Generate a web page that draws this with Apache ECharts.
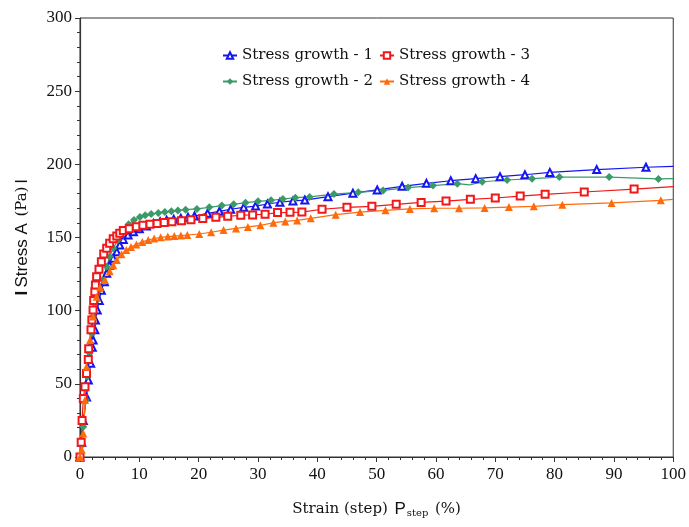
<!DOCTYPE html>
<html>
<head>
<meta charset="utf-8">
<script src="https://cdn.jsdelivr.net/npm/echarts@6/dist/echarts.min.js"></script>
<style>
  html, body { margin: 0; padding: 0; background: #fff; }
  #chart { width: 689px; height: 527px; }
</style>
</head>
<body>
<div id="chart"></div>
<script>
// [strain %, stress Pa]
var growth1 = [[0,0],[0.3,10],[0.56,25],[1.1,41],[1.4,52.6],[1.8,64],[2.07,75],[2.2,80],[2.5,87],[2.6,93.6],[2.9,100.5],[3.25,107],[3.6,114],[4.1,119.8],[4.5,125.5],[5.0,131],[5.6,135.8],[6.2,140.3],[6.7,144.9],[7.3,148.7],[8.1,151.7],[9.0,154],[10.0,156],[11.2,157.8],[12.4,159.5],[13.5,160.8],[14.6,161.8],[15.8,162.5],[17.0,163.1],[18.2,163.8],[19.3,164.7],[21.5,166.5],[23.5,167.9],[25.4,169.3],[27.6,170.6],[29.6,171.5],[31.6,172.9],[33.7,174.1],[35.9,175.0],[37.9,175.6],[41.8,177.9],[46.0,180.3],[50.1,182.5],[54.3,185.0],[58.4,187.0],[62.5,188.8],[66.7,190.2],[70.8,191.6],[75.0,192.9],[79.2,194.5],[87.1,196.4],[95.4,198.0],[100,198.6]];
var growth2 = [[0,0],[0.3,8],[0.56,20.7],[1.0,39],[1.2,55],[1.6,71],[2.0,84.5],[2.2,96],[2.8,107],[3.2,114],[3.8,121],[4.5,130],[5.0,137],[5.6,142.6],[6.4,148.3],[7.3,154],[8.2,159],[9.1,162],[10.1,164],[11.0,165.2],[12.0,166],[13.2,166.8],[14.3,167.5],[15.4,168.0],[16.5,168.5],[17.8,169.0],[19.7,169.5],[21.8,170.6],[23.9,171.8],[25.9,172.7],[27.9,173.8],[30.0,174.7],[32.2,175.4],[34.2,176.3],[36.3,177.2],[38.7,177.7],[42.8,179.7],[46.9,180.9],[51.1,182.2],[55.3,184.1],[59.5,185.5],[63.6,186.8],[65.7,185.9],[67.8,188.1],[72.0,189.3],[76.2,190.2],[80.8,191.3],[89.2,191.3],[97.5,190.0],[100,190.3]];
var growth3 = [[0,0],[0.2,10],[0.35,25],[0.56,40],[0.84,48],[1.1,57],[1.4,66.7],[1.46,74],[1.85,87],[2.0,93.6],[2.2,100.5],[2.3,107],[2.5,113],[2.6,117.5],[2.8,123.2],[3.2,128.3],[3.6,133.5],[4.0,138.7],[4.5,142.6],[5.0,146],[5.6,149.2],[6.2,151],[6.7,152.9],[7.3,154.7],[8.3,156],[9.5,157.4],[10.6,158.3],[11.8,159],[13,159.6],[14.2,160.2],[15.5,160.8],[17.1,161.5],[18.7,162.2],[20.7,162.9],[22.9,163.8],[24.9,164.5],[27.1,165.2],[29.1,165.4],[31.2,165.9],[33.3,167.0],[35.4,167.2],[37.4,167.4],[40.8,169.3],[45.0,170.6],[49.2,171.3],[53.3,172.7],[57.5,174.0],[61.7,174.9],[65.8,176.1],[70.0,177.0],[74.2,178.3],[78.4,179.5],[85.0,181.1],[93.4,183.1],[100,184.7]];
var growth4 = [[0,0],[0.3,5],[0.56,16],[0.84,39],[1.1,61.7],[1.7,80],[2.2,96],[2.8,109.5],[3.4,116],[4.2,121],[5.0,127],[5.6,131],[6.2,134.6],[7.0,138.5],[7.8,141.5],[8.6,143.5],[9.5,145.3],[10.5,147],[11.5,148.3],[12.5,149.3],[13.6,150.1],[14.8,150.6],[15.9,151],[17.0,151.3],[18.1,151.7],[20.1,152.4],[22.1,153.6],[24.2,155.1],[26.3,156.2],[28.3,157.2],[30.4,158.3],[32.6,160.1],[34.6,161.0],[36.6,161.7],[38.9,163.1],[43.1,165.6],[47.2,167.4],[51.5,168.6],[55.6,169.5],[59.7,170.0],[63.9,170.0],[68.2,170.2],[72.3,170.8],[76.5,171.3],[81.3,172.4],[89.6,173.6],[97.9,175.4],[100,176.1]];
// line-only points (no marker drawn there)
var noMarker = { 'Stress growth - 2': [65.7, 100] };

var names = ['Stress growth - 1', 'Stress growth - 2', 'Stress growth - 3', 'Stress growth - 4'];
var legendRow1 = ['Stress growth - 1', 'Stress growth - 3'];
var legendRow2 = ['Stress growth - 2', 'Stress growth - 4'];
var colors = ['#1515f0', '#3a9a68', '#f01818', '#ff6a0a'];
var symbols = ['emptyTriangle', 'diamond', 'emptyRect', 'triangle'];
var sizes = [7, 8, 7, 8];
var allData = [growth1, growth2, growth3, growth4];

var serif = 'DejaVu Serif';
var chart = echarts.init(document.getElementById('chart'));

var series = allData.map(function (d, i) {
    var skip = noMarker[names[i]] || [100];
    return {
        name: names[i],
        type: 'line',
        symbol: symbols[i],
        symbolSize: sizes[i],
        showAllSymbol: true,
        color: colors[i],
        lineStyle: { width: 1.2, color: colors[i] },
        itemStyle: { color: colors[i], borderWidth: 1 },
        data: d.map(function (p) {
            if (skip.indexOf(p[0]) >= 0) return { value: p, symbol: 'none' };
            return p;
        })
    };
});

var legendBase = {
    left: 217, itemWidth: 14, itemHeight: 8, itemGap: 6,
    textStyle: { fontFamily: serif, fontSize: 15, color: '#111' }
};

var option = {
    animation: false,
    backgroundColor: '#fff',
    grid: { left: 80, right: 14, top: 18, bottom: 70, show: true, borderColor: '#333', borderWidth: 1 },
    legend: [
        Object.assign({ data: legendRow1, top: 43 }, legendBase),
        Object.assign({ data: legendRow2, top: 69 }, legendBase)
    ],
    xAxis: {
        type: 'value', min: 0, max: 100, interval: 10,
        name: '{s|Strain (step)}  {p|P}{sub|step}  {s|(%)}',
        nameLocation: 'middle', nameGap: 44,
        nameTextStyle: {
            rich: {
                s: { fontFamily: serif, fontSize: 15, color: '#111' },
                p: { fontFamily: 'Liberation Sans', fontSize: 17, color: '#111' },
                sub: { fontFamily: serif, fontSize: 10, color: '#111', verticalAlign: 'bottom', padding: [6, 0, 0, 1] }
            }
        },
        axisLine: { lineStyle: { color: '#333', width: 1.2 } },
        axisTick: { length: 5, lineStyle: { color: '#333' } },
        minorTick: { show: true, splitNumber: 5, length: 3, lineStyle: { color: '#333' } },
        axisLabel: { fontFamily: 'Liberation Serif', fontSize: 17, color: '#111', margin: 9 },
        splitLine: { show: false }
    },
    yAxis: {
        type: 'value', min: 0, max: 300, interval: 50,
        name: '{b|I} {a|Stress A}  {t|(Pa)} {a|l}',
        nameLocation: 'middle', nameGap: 49, nameRotate: 90,
        nameTextStyle: {
            rich: {
                b: { fontFamily: 'Liberation Sans', fontSize: 17, fontWeight: 'bold', color: '#111' },
                a: { fontFamily: 'Liberation Sans', fontSize: 17, color: '#111' },
                t: { fontFamily: serif, fontSize: 15, color: '#111' }
            }
        },
        axisLine: { show: true, lineStyle: { color: '#333', width: 1.2 } },
        axisTick: { show: true, length: 5, lineStyle: { color: '#333' } },
        minorTick: { show: true, splitNumber: 5, length: 3, lineStyle: { color: '#333' } },
        axisLabel: { fontFamily: 'Liberation Serif', fontSize: 17, color: '#111', margin: 8 },
        splitLine: { show: false }
    },
    series: series
};

chart.setOption(option);
</script>
</body>
</html>
